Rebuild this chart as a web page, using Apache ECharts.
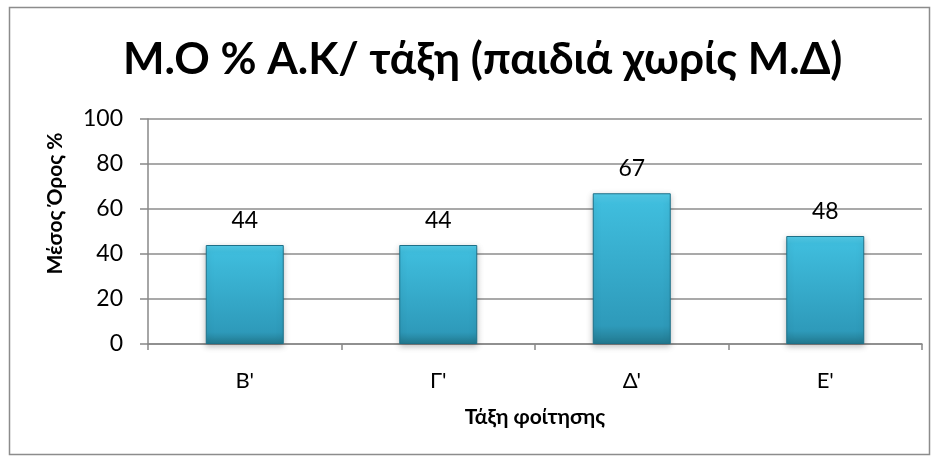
<!DOCTYPE html>
<html>
<head>
<meta charset="utf-8">
<script src="https://cdn.jsdelivr.net/npm/echarts@6/dist/echarts.min.js"></script>
<style>
  html, body { margin: 0; padding: 0; background: #fff; }
  #chart { width: 938px; height: 461px; }
</style>
</head>
<body>
<div id="chart"></div>
<script>
// data
var classes = ["Β'", "Γ'", "Δ'", "Ε'"];
var meanValues = [44, 44, 67, 48];
var titleText = 'Μ.Ο % Α.Κ/ τάξη (παιδιά χωρίς Μ.Δ)';
var yName = 'Μέσος Όρος %';
var xName = 'Τάξη φοίτησης';

var font = 'Lato, "Open Sans", sans-serif';
var chart = echarts.init(document.getElementById('chart'));

var barColor = new echarts.graphic.LinearGradient(0, 0, 0, 1, [
    { offset: 0, color: '#55cdea' },
    { offset: 0.07, color: '#3fbddd' },
    { offset: 0.88, color: '#2e9aba' },
    { offset: 1, color: '#22798f' }
]);

chart.setOption({
    animation: false,
    backgroundColor: '#fff',
    title: {
        text: titleText,
        left: 118,
        top: 33,
        textStyle: { fontFamily: font, fontSize: 44, fontWeight: 'bold', color: '#000' }
    },
    graphic: [{
        type: 'rect',
        shape: { x: 9.5, y: 7.5, width: 920, height: 447 },
        style: { fill: 'none', stroke: '#8c8c8c', lineWidth: 1.5 },
        silent: true
    }],
    grid: { left: 148, right: 16, top: 119, bottom: 117 },
    xAxis: {
        type: 'category',
        data: classes,
        name: xName,
        nameLocation: 'middle',
        nameGap: 63,
        nameTextStyle: { fontFamily: font, fontSize: 21, fontWeight: 'bold', color: '#000' },
        axisLine: { lineStyle: { color: '#888', width: 1.5 } },
        axisTick: { show: true, length: 6, lineStyle: { color: '#888', width: 1.5 } },
        axisLabel: { fontFamily: font, fontSize: 22, color: '#000', margin: 26 }
    },
    yAxis: {
        type: 'value',
        min: 0,
        max: 100,
        interval: 20,
        name: yName,
        nameLocation: 'middle',
        nameRotate: 90,
        nameGap: 82,
        nameTextStyle: { fontFamily: font, fontSize: 21, fontWeight: 'bold', color: '#000', padding: [0, 0, 0, 56] },
        axisLine: { show: true, lineStyle: { color: '#888', width: 1.5 } },
        axisTick: { show: true, length: 8, lineStyle: { color: '#888', width: 1.5 } },
        axisLabel: { fontFamily: font, fontSize: 23, color: '#000', margin: 25 },
        splitLine: { lineStyle: { color: '#8c8c8c', width: 1.5 } }
    },
    series: [{
        type: 'bar',
        data: meanValues,
        barWidth: 78,
        itemStyle: {
            color: barColor,
            borderColor: '#1e7088',
            borderWidth: 1,
            shadowColor: 'rgba(0,0,0,0.25)',
            shadowBlur: 6,
            shadowOffsetY: 2
        },
        label: {
            show: true,
            position: 'top',
            distance: 13,
            fontFamily: font,
            fontSize: 23,
            color: '#000'
        }
    }]
});
</script>
</body>
</html>
